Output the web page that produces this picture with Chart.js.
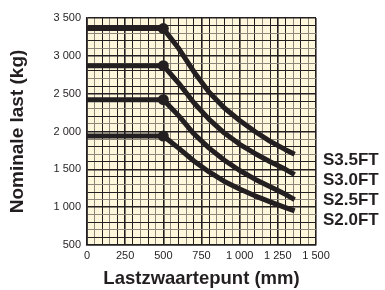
<!DOCTYPE html>
<html>
<head>
<meta charset="utf-8">
<script src="https://cdn.jsdelivr.net/npm/chart.js@4"></script>
<style>
  html, body { margin: 0; padding: 0; background: #fff; }
  #wrap { position: relative; width: 385px; height: 290px; }
</style>
</head>
<body>
<div id="wrap"><canvas id="loadChart" width="385" height="290"></canvas></div>
<script>
// load centre (mm) where each capacity curve is sampled
const loadCenters = [0, 500, 600, 700, 800, 900, 1000, 1100, 1200, 1300, 1360];

// nominal load (kg) per model
const s35 = [3360, 3360, 3100, 2790, 2520, 2310, 2145, 2000, 1870, 1760, 1700];
const s30 = [2870, 2870, 2640, 2380, 2160, 1980, 1830, 1710, 1600, 1500, 1430];
const s25 = [2420, 2420, 2210, 1970, 1780, 1620, 1485, 1370, 1270, 1170, 1100];
const s20 = [1940, 1940, 1780, 1610, 1465, 1340, 1240, 1150, 1070, 995, 950];

const seriesNames = ['S3.5FT', 'S3.0FT', 'S2.5FT', 'S2.0FT'];
const seriesValues = [s35, s30, s25, s20];

const xTicks = [0, 250, 500, 750, 1000, 1250, 1500];
const yTicks = [500, 1000, 1500, 2000, 2500, 3000, 3500];

const ink = '#231f20';
const gray = '#8d877b';
const paper = '#fef7dc';
const family = '"Liberation Sans", Arial, sans-serif';

const fmt = v => String(v).replace(/\B(?=(\d{3})+(?!\d))/g, ' ');

const paperBg = {
    id: 'paperBg',
    beforeDraw(chart) {
        const { ctx, chartArea: a } = chart;
        ctx.save();
        ctx.fillStyle = paper;
        ctx.fillRect(a.left, a.top, a.right - a.left, a.bottom - a.top);
        ctx.restore();
    }
};

const sideLabels = {
    id: 'sideLabels',
    afterDraw(chart) {
        const { ctx, chartArea: a } = chart;
        ctx.save();
        ctx.fillStyle = ink;
        ctx.font = 'bold 17px ' + family;
        ctx.textBaseline = 'middle';
        seriesNames.forEach((name, i) => {
            ctx.fillText(name, a.right + 7, a.bottom - 85 + i * 20);
        });
        ctx.restore();
    }
};

const datasets = seriesValues.map((vals, i) => ({
    label: seriesNames[i],
    data: vals.map((v, j) => ({ x: loadCenters[j], y: v })),
    borderColor: ink,
    backgroundColor: ink,
    borderWidth: 5,
    borderCapStyle: 'butt',
    borderJoinStyle: 'round',
    tension: 0,
    pointRadius: ctx => (ctx.raw && ctx.raw.x === 500 ? 5.5 : 0),
    pointBorderWidth: 0,
    pointHoverRadius: 0
}));

new Chart(document.getElementById('loadChart'), {
    type: 'line',
    data: { datasets },
    options: {
        responsive: false,
        animation: false,
        layout: { padding: { top: 18, right: 69, left: 0, bottom: 0 } },
        plugins: { legend: { display: false }, tooltip: { enabled: false } },
        scales: {
            x: {
                type: 'linear',
                min: 0,
                max: 1500,
                afterFit: s => { s.height = 45; },
                ticks: {
                    stepSize: 50,
                    autoSkip: false,
                    maxRotation: 0,
                    padding: 4,
                    color: ink,
                    font: { family, size: 11 },
                    callback: v => (xTicks.includes(v) ? fmt(v) : '')
                },
                grid: {
                    drawTicks: false,
                    color: c => (c.tick.value % 100 === 0 || c.tick.value % 250 === 0 ? ink : gray),
                    lineWidth: c => (c.tick.value % 250 === 0 ? 1.6 : 1)
                },
                border: { color: ink, width: 1.6 },
                title: {
                    display: true,
                    text: 'Lastzwaartepunt (mm)',
                    color: ink,
                    padding: { top: 0, bottom: 0 },
                    font: { family, size: 18.5, weight: 'bold' }
                }
            },
            y: {
                min: 500,
                max: 3500,
                afterFit: s => { s.width = 87; },
                ticks: {
                    stepSize: 100,
                    autoSkip: false,
                    padding: 6,
                    color: ink,
                    font: { family, size: 11 },
                    callback: v => (yTicks.includes(v) ? fmt(v) : '')
                },
                grid: {
                    drawTicks: false,
                    color: c => (c.tick.value % 200 === 0 || c.tick.value % 500 === 0 ? ink : gray),
                    lineWidth: c => (c.tick.value % 500 === 0 ? 1.6 : 1)
                },
                border: { color: ink, width: 1.6 },
                title: {
                    display: true,
                    text: 'Nominale last (kg)',
                    color: ink,
                    padding: { top: 6, bottom: 0 },
                    font: { family, size: 19, weight: 'bold' }
                }
            }
        }
    },
    plugins: [paperBg, sideLabels]
});
</script>
</body>
</html>
